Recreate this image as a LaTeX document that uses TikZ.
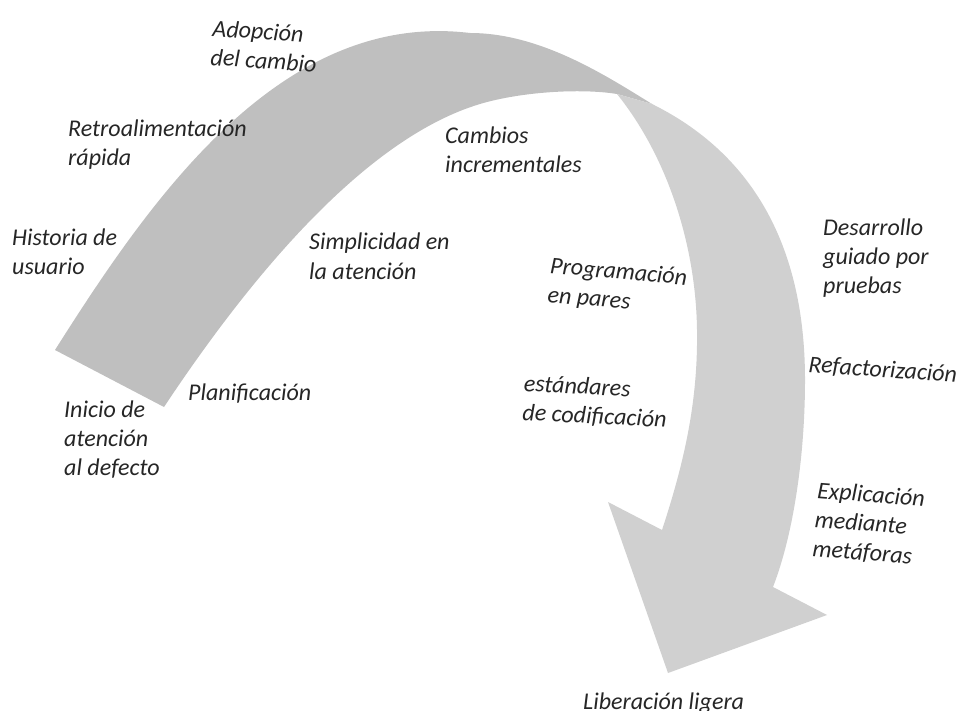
\documentclass[tikz,border=0pt]{standalone}
\usepackage{fontspec}
\setmainfont{Carlito}
\begin{document}
\begin{tikzpicture}[x=1pt,y=-1pt,
  lbl/.style={anchor=base west,inner sep=0pt,align=left,font=\fontsize{24}{29}\selectfont\itshape,text=black!85}]
\definecolor{banddark}{RGB}{191,191,191}
\definecolor{bandlight}{RGB}{208,208,208}
\useasboundingbox (0,0) rectangle (960,711);
% dark (left) part of the twisted arrow
\fill[banddark] (55,350) .. controls (150,200) and (280,10) .. (470,33)
  .. controls (540,33) and (605,75) .. (652,104)
  -- (617,94)
  .. controls (580,88) and (520,92) .. (480,104)
  .. controls (360,140) and (243,288) .. (164,407) -- cycle;
% light (right) part with the arrow head
\fill[bandlight] (617,94) -- (652,104) .. controls (735,145) and (805,225) .. (805,380)
  .. controls (805,450) and (795,530) .. (773,587)
  -- (827,615) -- (668,673) -- (608,502) -- (662,530)
  .. controls (685,460) and (698,400) .. (697,330)
  .. controls (696,250) and (670,160) .. (617,94) -- cycle;
% labels (anchor = baseline of the last line)
\node[lbl,rotate=-4] (adop) at (210,65) {Adopción\\del cambio};
\node[lbl] (retro) at (68,166) {Retroalimentación\\rápida};
\node[lbl] (hist) at (12,274) {Historia de\\usuario};
\node[lbl] (simp) at (309,279) {Simplicidad en\\la atención};
\node[lbl] (camb) at (445,173) {Cambios\\incrementales};
\node[lbl] (desa) at (823,293) {Desarrollo\\guiado por\\pruebas};
\node[lbl,rotate=-5] (prog) at (547,302) {Programación\\en pares};
\node[lbl] (plan) at (188,400) {Planificación};
\node[lbl] (inic) at (64,475) {Inicio de\\atención\\al defecto};
\node[lbl,rotate=-3] (esta) at (522,420) {estándares\\de codificación};
\node[lbl,rotate=-4] (refa) at (808,372) {Refactorización};
\node[lbl,rotate=-4.5] (expl) at (812,556) {Explicación\\mediante\\metáforas};
\node[lbl] (libe) at (583,709) {Liberación ligera};
\end{tikzpicture}
\end{document}
